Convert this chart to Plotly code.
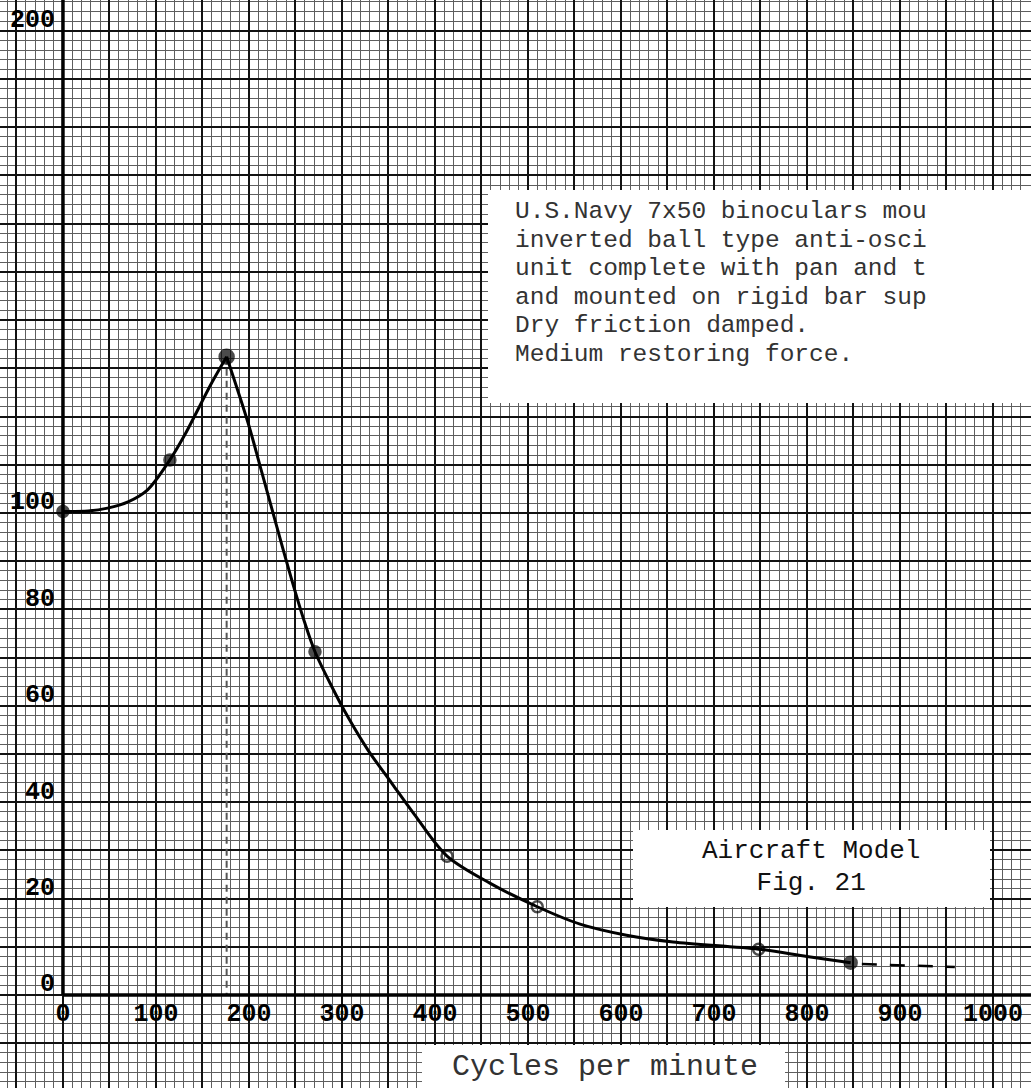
import plotly.graph_objects as go

# ---- data ----
pt_x = [0, 115, 176, 271, 413, 510, 748, 847]
pt_y = [100.3, 111, 132.4, 71.2, 28.8, 18.3, 9.5, 6.7]

rise_x = [0, 27, 48, 70, 91, 115, 131, 160, 176]
rise_y = [100.3, 100.4, 101.0, 102.3, 104.8, 111.0, 116.2, 127.0, 132.4]

fall_x = [176, 199, 214, 230, 246, 260, 271, 289, 306, 328, 354, 378, 413,
          459, 510, 556, 606, 656, 748, 800, 847]
fall_y = [132.4, 118.7, 108.3, 97.1, 86.1, 77.2, 71.2, 64.0, 57.8, 50.8, 43.8,
          37.4, 28.8, 23.2, 18.3, 14.7, 12.4, 11.0, 9.5, 8.0, 6.7]

ext_x = [859, 959]
ext_y = [6.4, 5.8]

peak_x = [176, 176]
peak_y = [132.4, 0]

x_tick_labels = [0, 100, 200, 300, 400, 500, 600, 700, 800, 900, 1000]
y_tick_labels = [0, 20, 40, 60, 80, 100, 200]

# note text as visible in the (cropped) figure
note_lines = [
    "U.S.Navy 7x50 binoculars mou",
    "inverted ball type anti-osci",
    "unit complete with pan and t",
    "and mounted on rigid bar sup",
    "Dry friction damped.",
    "Medium restoring force.",
]
fig_title_lines = ["Aircraft Model", "Fig. 21"]
x_title = "Cycles per minute"

# ---- styles ----
pt_symbol = ["circle", "circle", "circle", "circle",
             "circle-open", "circle-open", "circle-open", "circle"]
pt_size = [11, 11, 14, 11, 11, 11, 11, 12]

W, H = 1031, 1088
X_RANGE = [-67.7, 1040.9]
Y_RANGE = [-19.3, 206.4]
MONO = "Liberation Mono, DejaVu Sans Mono, monospace"

fig = go.Figure()

fig.add_trace(go.Scatter(x=peak_x, y=peak_y, mode="lines",
                         line=dict(color="#555", width=2, dash="7px,5px"),
                         hoverinfo="skip"))
fig.add_trace(go.Scatter(x=rise_x, y=rise_y, mode="lines",
                         line=dict(color="black", width=3, shape="spline", smoothing=0.9)))
fig.add_trace(go.Scatter(x=fall_x, y=fall_y, mode="lines",
                         line=dict(color="black", width=3, shape="spline", smoothing=0.9)))
fig.add_trace(go.Scatter(x=ext_x, y=ext_y, mode="lines",
                         line=dict(color="black", width=2.5, dash="15px,13px")))
fig.add_trace(go.Scatter(x=pt_x, y=pt_y, mode="markers",
                         marker=dict(symbol=pt_symbol, size=pt_size, color="black",
                                     line=dict(color="black", width=2.5))))

x_pos = (0 - Y_RANGE[0]) / (Y_RANGE[1] - Y_RANGE[0])

xt = list(range(-50, 1041, 50))
xm = [v for v in range(-60, 1041, 10) if v % 50 != 0]
yt = list(range(-10, 207, 10))
ym = [v for v in range(-18, 207, 2) if v % 10 != 0]

fig.update_layout(
    width=W, height=H,
    margin=dict(l=0, r=0, t=0, b=0),
    paper_bgcolor="white", plot_bgcolor="white",
    showlegend=False,
    xaxis=dict(
        range=X_RANGE, anchor="free", position=x_pos,
        tickmode="array", tickvals=xt,
        ticktext=[str(v) if v in x_tick_labels else "" for v in xt],
        ticks="", showline=False, zeroline=False,
        showgrid=True, gridcolor="#111", gridwidth=2,
        minor=dict(tickmode="array", tickvals=xm, showgrid=True,
                   gridcolor="#5e5e5e", gridwidth=1, ticks=""),
        tickfont=dict(family=MONO, size=25, color="black", weight="bold"),
        automargin=False, fixedrange=True,
    ),
    yaxis=dict(
        range=Y_RANGE,
        tickmode="array", tickvals=yt, showticklabels=False,
        ticks="", showline=False, zeroline=False,
        showgrid=True, gridcolor="#111", gridwidth=2,
        minor=dict(tickmode="array", tickvals=ym, showgrid=True,
                   gridcolor="#5e5e5e", gridwidth=1, ticks=""),
        automargin=False, fixedrange=True,
    ),
)

# y tick labels, written just above their grid lines as on the original paper
for v in y_tick_labels:
    fig.add_annotation(xref="x", yref="y", x=0, y=v, xanchor="right", yanchor="middle",
                       xshift=-6, yshift=10, text=str(v), showarrow=False,
                       font=dict(family=MONO, size=25, color="black", weight="bold"))

# heavy axis lines
fig.add_shape(type="line", xref="x", yref="y", x0=0, x1=X_RANGE[1], y0=0, y1=0,
              line=dict(color="black", width=3.5))
fig.add_shape(type="line", xref="x", yref="y", x0=0, x1=0, y0=0, y1=Y_RANGE[1],
              line=dict(color="black", width=3.5))

def px(x):
    return x / W

def py(y):
    return 1 - y / H

# white label boxes
for (x0, y0, x1, y1) in [(488, 190, 1035, 403), (633, 830, 990, 907), (422, 1045, 785, 1092)]:
    fig.add_shape(type="rect", xref="paper", yref="paper",
                  x0=px(x0), x1=px(x1), y0=py(y1), y1=py(y0),
                  fillcolor="white", line=dict(width=0), layer="above")

note_text = "<br>".join('<span style="font-size:24.5px">%s</span>' % s for s in note_lines)
fig.add_annotation(xref="paper", yref="paper", x=px(513), y=py(283),
                   xanchor="left", yanchor="middle", align="left", text=note_text,
                   showarrow=False, font=dict(family=MONO, size=22, color="#333"))

title_text = "<br>".join('<span style="font-size:26px">%s</span>' % s for s in fig_title_lines)
fig.add_annotation(xref="paper", yref="paper", x=px(811), y=py(867),
                   xanchor="center", yanchor="middle", align="center", text=title_text,
                   showarrow=False, font=dict(family=MONO, size=24.6, color="#111"))

fig.add_annotation(xref="paper", yref="paper", x=px(605), y=py(1067),
                   xanchor="center", yanchor="middle", text=x_title, showarrow=False,
                   font=dict(family=MONO, size=30, color="#333"))

fig.write_html("out.html")
